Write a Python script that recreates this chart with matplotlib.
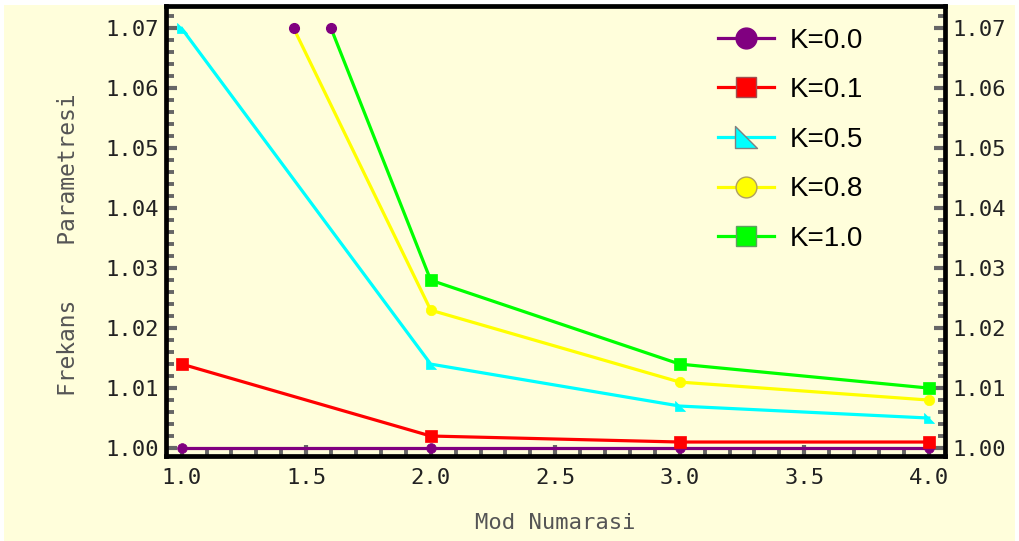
import matplotlib
matplotlib.use("Agg")
import matplotlib.pyplot as plt
from matplotlib.patches import Rectangle
from matplotlib.path import Path
from matplotlib.ticker import MultipleLocator, FormatStrFormatter

# ---- data ----
mode_x = [1.0, 2.0, 3.0, 4.0]
k00 = [1.000, 1.000, 1.000, 1.000]
k01 = [1.014, 1.002, 1.001, 1.001]
k05 = [1.070, 1.014, 1.007, 1.005]
k08_x = [1.45, 2.0, 3.0, 4.0]
k08 = [1.070, 1.023, 1.011, 1.008]
k10_x = [1.60, 2.0, 3.0, 4.0]
k10 = [1.070, 1.028, 1.014, 1.010]
clip_x = [1.45, 1.60]
clip_y = [1.070, 1.070]
labels = ["K=0.0", "K=0.1", "K=0.5", "K=0.8", "K=1.0"]
colors = ["#800080", "#ff0000", "#00ffff", "#ffff00", "#00ff00"]
xticks = [1.0, 1.5, 2.0, 2.5, 3.0, 3.5, 4.0]
yticks = [1.00, 1.01, 1.02, 1.03, 1.04, 1.05, 1.06, 1.07]

cream = "#fffedb"
W, H = 1019, 541
fig = plt.figure(figsize=(W / 100, H / 100), dpi=100, facecolor="white")
fig.patches.append(Rectangle((4 / W, 0), (1015 - 4) / W, (H - 5) / H,
                             transform=fig.transFigure, facecolor=cream,
                             edgecolor="none", zorder=-10))

ax = fig.add_axes([166 / W, 1 - 455.5 / H, (945 - 166) / W, (455.5 - 6) / H])
ax.set_facecolor(cream)

tri = Path([(-1, 1), (-1, -1), (1, -1), (-1, 1)],
           [Path.MOVETO, Path.LINETO, Path.LINETO, Path.CLOSEPOLY])

lw = 2.3
series = [
    (mode_x, k00, "o", 7.0, None),
    (mode_x, k01, "s", 8.5, None),
    (mode_x, k05, tri, 7.0, None),
    (k08_x, k08, "o", 7.5, [1, 2, 3]),
    (k10_x, k10, "s", 8.0, [1, 2, 3]),
]
for (xs, ys, m, ms, me), c, lab in zip(series, colors, labels):
    ax.plot(xs, ys, color=c, lw=lw, marker=m, markersize=ms, markevery=me,
            markerfacecolor=c, markeredgecolor=c, markeredgewidth=0.5,
            label=lab)
ax.plot(clip_x, clip_y, linestyle="none", marker="o", markersize=7,
        color=colors[0], zorder=5)

ax.set_xlim(0.937, 4.065)
ax.set_ylim(0.99875, 1.07375)

mono = "DejaVu Sans Mono"
ax.xaxis.set_minor_locator(MultipleLocator(0.1))
ax.yaxis.set_minor_locator(MultipleLocator(0.002))
ax.set_xticks(xticks)
ax.set_yticks(yticks)
ax.xaxis.set_major_formatter(FormatStrFormatter("%.1f"))
ax.yaxis.set_major_formatter(FormatStrFormatter("%.2f"))

ax.tick_params(which="both", direction="in", color="#666666",
               bottom=True, left=True, right=True, top=False,
               labelbottom=True, labelleft=True, labelright=True,
               labelsize=16, labelcolor="#222222", labelfontfamily=mono)
ax.tick_params(which="major", length=8.2, width=3.0)
ax.tick_params(which="minor", length=5.4, width=2.8)
ax.tick_params(axis="x", which="major", pad=9)
ax.tick_params(axis="y", which="major", pad=5)

for s in ax.spines.values():
    s.set_linewidth(3.4)
    s.set_color("black")

ax.set_xlabel("Mod Numarasi", family=mono, fontsize=16, color="#555555")
ax.set_ylabel("Frekans    Parametresi", family=mono, fontsize=16.5,
              color="#555555")
ax.xaxis.set_label_coords(0.5, -0.128)
ax.yaxis.set_label_coords(-0.110, 0.468)

leg = ax.legend(loc="upper left", bbox_to_anchor=(718 / W, 1 - 27.5 / H),
                bbox_transform=fig.transFigure, frameon=False,
                prop={"family": "Liberation Sans", "size": 20},
                handlelength=2.0, handletextpad=0.6, labelspacing=0.85,
                borderpad=0, borderaxespad=0)
edge_cols = ["#800080", "#a05050", "#808080", "#b0a060", "#60a060"]
sizes = [15, 15, 16, 15, 15]
for h, ec, sz in zip(leg.legend_handles, edge_cols, sizes):
    h.set_markersize(sz)
    h.set_markeredgecolor(ec)
    h.set_markeredgewidth(1.0)
    h.set_linewidth(2.3)

fig.savefig("out.png", dpi=100, facecolor="white")
